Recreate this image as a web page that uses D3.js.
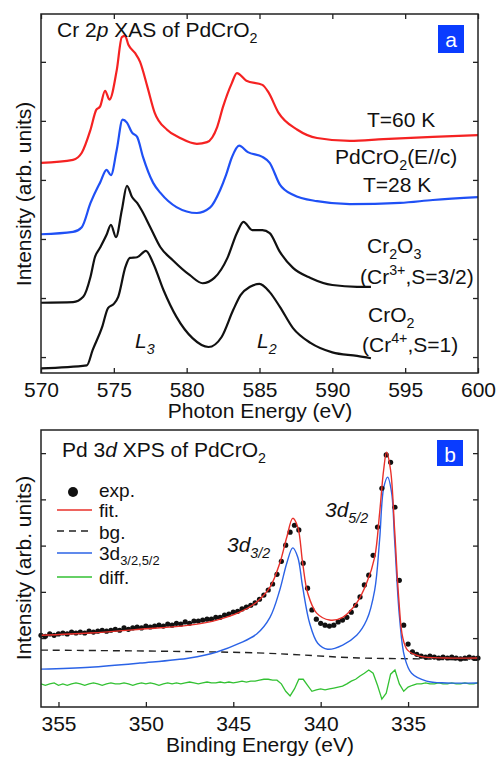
<!DOCTYPE html>
<html>
<head>
<meta charset="utf-8">
<script src="https://cdn.jsdelivr.net/npm/d3@7"></script>
<style>
  body { margin: 0; background: #fff; }
  text { font-family: Arial, "Liberation Sans", sans-serif; fill: #111; }
</style>
</head>
<body>
<svg id="chart" width="496" height="757"></svg>
<script>
// ---- panel a : Cr 2p XAS ----
const xasTicks = [570, 575, 580, 585, 590, 595, 600]

const e60 = [570, 572.2, 572.8, 573.4, 573.8, 574.05, 574.4, 574.7, 575.2, 575.55, 575.77, 576.0, 576.45, 576.8, 577.3, 577.8, 578.65, 579.55, 580.7, 581.4, 582.1, 582.5, 583.1, 583.45, 584.1, 585.2, 585.6, 586.3, 587.6, 588.95, 591.2, 593.5, 596.9, 600]
const i60 = [3.29, 3.34, 3.46, 3.85, 4.19, 4.24, 4.51, 4.36, 4.86, 5.42, 5.44, 5.29, 5.15, 5.0, 4.58, 4.14, 3.85, 3.71, 3.61, 3.64, 3.90, 4.24, 4.64, 4.81, 4.68, 4.61, 4.49, 4.14, 3.85, 3.71, 3.66, 3.69, 3.73, 3.76]

const e28 = [570, 572.2, 572.8, 573.4, 573.9, 574.05, 574.5, 574.8, 575.2, 575.6, 575.9, 576.25, 576.6, 577.0, 577.7, 578.2, 579.3, 580.7, 581.6, 582.3, 582.7, 583.1, 583.6, 584.2, 585.2, 585.7, 586.4, 587.3, 588.95, 591.2, 594.65, 596.9, 600]
const i28 = [2.08, 2.12, 2.20, 2.61, 2.88, 2.95, 3.17, 3.08, 3.51, 4.02, 3.97, 3.80, 3.73, 3.39, 2.95, 2.78, 2.54, 2.44, 2.53, 2.83, 3.08, 3.38, 3.58, 3.47, 3.39, 3.29, 2.92, 2.75, 2.64, 2.59, 2.61, 2.66, 2.71]

const eCr2O3 = [570, 572.2, 572.9, 573.4, 573.7, 574.05, 574.5, 574.8, 575.15, 575.55, 575.9, 576.25, 576.6, 576.9, 577.5, 578.2, 579.05, 580.2, 581.1, 581.9, 582.8, 583.45, 583.9, 584.5, 585.2, 585.7, 586.4, 587.3, 588.5, 590.0, 591.7, 592.65]
const iCr2O3 = [0.92, 0.93, 1.02, 1.36, 1.69, 1.85, 2.07, 2.24, 2.03, 2.49, 2.90, 2.71, 2.61, 2.49, 2.20, 1.86, 1.64, 1.39, 1.25, 1.34, 1.68, 2.10, 2.29, 2.15, 2.15, 2.10, 1.78, 1.51, 1.34, 1.22, 1.19, 1.19]

const eCrO2 = [570, 573.15, 573.55, 574.2, 574.6, 575.0, 575.3, 575.8, 576.1, 576.6, 577.2, 577.7, 578.4, 579.3, 580.4, 581.5, 582.4, 583.2, 583.7, 584.35, 585.0, 585.7, 586.4, 587.3, 588.5, 590.0, 591.7, 592.65]
const iCrO2 = [-0.19, -0.14, 0.12, 0.51, 0.83, 0.90, 1.02, 1.53, 1.68, 1.69, 1.80, 1.59, 1.14, 0.68, 0.32, 0.17, 0.34, 0.80, 1.05, 1.19, 1.24, 1.10, 0.85, 0.49, 0.24, 0.08, 0.02, -0.02]

// ---- panel b : Pd 3d XPS ----
const xpsTicks = [355, 350, 345, 340, 335]

const xpsE = [356, 355.75, 355.5, 355.25, 355, 354.75, 354.5, 354.25, 354, 353.75, 353.5, 353.25, 353, 352.75, 352.5, 352.25, 352, 351.75, 351.5, 351.25, 351, 350.75, 350.5, 350.25, 350, 349.75, 349.5, 349.25, 349, 348.75, 348.5, 348.25, 348, 347.75, 347.5, 347.25, 347, 346.75, 346.5, 346.25, 346, 345.75, 345.5, 345.25, 345, 344.75, 344.5, 344.25, 344, 343.75, 343.5, 343.25, 343, 342.75, 342.5, 342.25, 342, 341.75, 341.5, 341.25, 341, 340.75, 340.5, 340.25, 340, 339.75, 339.5, 339.25, 339, 338.75, 338.5, 338.25, 338, 337.75, 337.5, 337.25, 337, 336.75, 336.5, 336.25, 336, 335.75, 335.5, 335.25, 335, 334.75, 334.5, 334.25, 334, 333.75, 333.5, 333.25, 333, 332.75, 332.5, 332.25, 332, 331.75, 331.5, 331.25, 331]
const xpsExp = [0.06, 0.04, 0.09, 0.06, 0.09, 0.11, 0.09, 0.13, 0.11, 0.13, 0.11, 0.15, 0.13, 0.15, 0.17, 0.15, 0.17, 0.19, 0.17, 0.22, 0.19, 0.22, 0.24, 0.22, 0.26, 0.24, 0.26, 0.28, 0.26, 0.30, 0.28, 0.32, 0.30, 0.35, 0.32, 0.37, 0.37, 0.39, 0.41, 0.41, 0.45, 0.45, 0.50, 0.52, 0.56, 0.58, 0.63, 0.67, 0.71, 0.76, 0.84, 0.93, 1.04, 1.17, 1.38, 1.66, 2.01, 2.29, 2.44, 2.34, 1.62, 1.08, 0.61, 0.41, 0.32, 0.28, 0.26, 0.28, 0.35, 0.39, 0.45, 0.56, 0.71, 0.89, 1.15, 1.36, 1.79, 2.40, 3.24, 3.96, 3.80, 2.83, 1.25, 0.28, -0.13, -0.30, -0.35, -0.39, -0.41, -0.39, -0.41, -0.43, -0.41, -0.43, -0.41, -0.43, -0.45, -0.43, -0.41, -0.43, -0.43]
const xpsDiff = [-0.99, -1.02, -0.99, -0.97, -1.02, -0.99, -1.02, -0.99, -0.97, -0.99, -1.02, -0.99, -0.97, -0.99, -1.02, -0.99, -0.97, -0.99, -0.99, -0.97, -0.99, -1.02, -0.99, -0.97, -0.99, -0.97, -0.99, -1.02, -0.99, -0.97, -0.99, -0.97, -0.99, -0.97, -0.95, -0.97, -0.99, -0.97, -0.95, -0.97, -0.97, -0.95, -0.97, -0.95, -0.97, -0.95, -0.93, -0.95, -0.93, -0.93, -0.91, -0.89, -0.89, -0.91, -0.91, -0.99, -1.15, -1.25, -1.10, -0.89, -0.89, -1.02, -1.15, -1.12, -1.10, -1.12, -1.10, -1.08, -1.06, -1.04, -0.99, -0.93, -0.89, -0.82, -0.76, -0.69, -0.76, -1.02, -1.32, -1.19, -0.78, -0.69, -0.99, -1.15, -1.06, -1.02, -0.99, -0.99, -0.97, -0.99, -0.99, -0.97, -0.99, -0.99, -0.97, -0.99, -0.99, -0.97, -0.99, -0.99, -0.97]

const fitE = [356.0, 353.2, 350.34, 347.5, 345.94, 344.63, 343.66, 342.9, 342.34, 341.94, 341.6, 341.31, 341.03, 340.74, 340.23, 339.49, 338.74, 337.94, 337.37, 336.91, 336.63, 336.4, 336.23, 336.0, 335.77, 335.54, 335.31, 335.03, 334.34, 332.8, 331.03]
const fitI = [0.06, 0.11, 0.19, 0.28, 0.39, 0.56, 0.78, 1.10, 1.62, 2.18, 2.59, 2.40, 1.62, 0.97, 0.54, 0.39, 0.45, 0.76, 1.19, 1.75, 2.70, 3.63, 4.02, 3.63, 2.34, 0.89, 0.02, -0.26, -0.39, -0.43, -0.43]

const peakE = [356.0, 353.2, 350.34, 347.5, 345.94, 344.63, 343.66, 342.9, 342.34, 341.94, 341.6, 341.31, 341.03, 340.63, 340.17, 339.6, 338.74, 337.94, 337.37, 336.91, 336.63, 336.4, 336.17, 335.94, 335.77, 335.49, 335.2, 334.8, 333.94, 332.8, 331.03]
const peakI = [-0.67, -0.63, -0.54, -0.43, -0.30, -0.11, 0.09, 0.45, 1.04, 1.62, 1.95, 1.75, 1.10, 0.32, -0.11, -0.24, -0.15, 0.06, 0.39, 1.04, 2.12, 3.24, 3.48, 3.14, 2.12, 0.45, -0.41, -0.76, -0.93, -0.97, -0.97]

const bgE = [356, 343.66, 337.8, 334.34, 331.03]
const bgI = [-0.26, -0.32, -0.43, -0.45, -0.48]

const svg = d3.select("#chart")

// text with sub/superscripts and italics
function rich(g, x, y, parts, size, anchor) {
    const t = g.append("text")
        .attr("x", x)
        .attr("y", y)
        .attr("text-anchor", anchor || "start")
        .style("font-size", size + "px")
    let shift = 0
    parts.forEach(p => {
        const txt = p[0]
        const kind = p[1] || ""
        const small = kind == "sub" || kind == "sup" || kind == "isub"
        const target = (kind == "sub" || kind == "isub") ? size * 0.28 : kind == "sup" ? -size * 0.45 : 0
        const ts = t.append("tspan").text(txt).attr("dy", target - shift)
        if (small) ts.style("font-size", (size * 0.68) + "px")
        if (kind == "i" || kind == "isub") ts.style("font-style", "italic")
        shift = target
    })
    return t
}

function frame(x0, y0, x1, y1) {
    svg.append("rect")
        .attr("x", x0).attr("y", y0)
        .attr("width", x1 - x0).attr("height", y1 - y0)
        .attr("fill", "none")
        .attr("stroke", "#222")
        .attr("stroke-width", 1.5)
}

function styleAxis(g) {
    g.select(".domain").remove()
    g.selectAll(".tick line").attr("stroke", "#222").attr("stroke-width", 1.3)
    g.selectAll(".tick text").style("font-size", "21px").attr("fill", "#111")
}

// ================= panel a =================
const xA = d3.scaleLinear().domain([570, 600]).range([41, 478])
const yA = d3.scaleLinear().domain([-0.27, 5.81]).range([373, 14])

svg.append("g").attr("transform", "translate(0,373)")
    .call(d3.axisBottom(xA).tickValues(xasTicks).tickSizeInner(-5).tickSizeOuter(0).tickPadding(9))
    .call(styleAxis)
svg.append("g").attr("transform", "translate(0,14)")
    .call(d3.axisTop(xA).tickValues(xasTicks).tickSize(-5).tickFormat(""))
    .call(styleAxis)
svg.append("g").attr("transform", "translate(41,0)")
    .call(d3.axisLeft(yA).tickValues([0, 1, 2, 3, 4, 5]).tickSize(-5).tickFormat(""))
    .call(styleAxis)
svg.append("g").attr("transform", "translate(478,0)")
    .call(d3.axisRight(yA).tickValues([0, 1, 2, 3, 4, 5]).tickSize(-5).tickFormat(""))
    .call(styleAxis)

const lineA = d3.line()
    .x(d => xA(d[0]))
    .y(d => yA(d[1]))
    .curve(d3.curveMonotoneX)

const xasCurves = [
    [e60, i60, "#f52222"],
    [e28, i28, "#1f50f5"],
    [eCr2O3, iCr2O3, "#111"],
    [eCrO2, iCrO2, "#111"]
]
xasCurves.forEach(c => {
    svg.append("path")
        .datum(d3.zip(c[0], c[1]))
        .attr("d", lineA)
        .attr("fill", "none")
        .attr("stroke", c[2])
        .attr("stroke-width", 2.2)
})
frame(41, 14, 478, 373)

rich(svg, 57, 37, [["Cr 2"], ["p", "i"], [" XAS of PdCrO"], ["2", "sub"]], 21)
svg.append("rect").attr("x", 438).attr("y", 25).attr("width", 26).attr("height", 28).attr("fill", "#0a3cff")
svg.append("text").attr("x", 451).attr("y", 47).attr("text-anchor", "middle")
    .style("font-size", "21px").style("fill", "#fff").text("a")

rich(svg, 367, 127, [["T=60 K"]], 21)
rich(svg, 335, 164, [["PdCrO"], ["2", "sub"], ["(E//c)"]], 21)
rich(svg, 363, 192, [["T=28 K"]], 21)
rich(svg, 367, 253, [["Cr"], ["2", "sub"], ["O"], ["3", "sub"]], 21)
rich(svg, 360, 284, [["(Cr"], ["3+", "sup"], [",S=3/2)"]], 21)
rich(svg, 368, 322, [["CrO"], ["2", "sub"]], 21)
rich(svg, 362, 352, [["(Cr"], ["4+", "sup"], [",S=1)"]], 21)
rich(svg, 135, 348, [["L", "i"], ["3", "isub"]], 21)
rich(svg, 257, 348, [["L", "i"], ["2", "isub"]], 21)

svg.append("text").attr("x", 260).attr("y", 418).attr("text-anchor", "middle")
    .style("font-size", "21px").text("Photon Energy (eV)")
svg.append("text").attr("transform", "translate(31,194) rotate(-90)").attr("text-anchor", "middle")
    .style("font-size", "21px").text("Intensity (arb. units)")

// ================= panel b =================
const xB = d3.scaleLinear().domain([356, 331]).range([41, 478])
const yB = d3.scaleLinear().domain([-1.49, 4.5]).range([707, 430])

svg.append("g").attr("transform", "translate(0,707)")
    .call(d3.axisBottom(xB).tickValues(xpsTicks).tickSizeInner(-5).tickSizeOuter(0).tickPadding(9))
    .call(styleAxis)
svg.append("g").attr("transform", "translate(41,0)")
    .call(d3.axisLeft(yB).tickValues([0, 1, 2, 3, 4]).tickSize(-5).tickFormat(""))
    .call(styleAxis)
svg.append("g").attr("transform", "translate(478,0)")
    .call(d3.axisRight(yB).tickValues([0, 1, 2, 3, 4]).tickSize(-5).tickFormat(""))
    .call(styleAxis)

const lineB = d3.line()
    .x(d => xB(d[0]))
    .y(d => yB(d[1]))
    .curve(d3.curveCatmullRom.alpha(0.5))

svg.append("path")
    .datum(d3.zip(xpsE, xpsDiff))
    .attr("d", d3.line().x(d => xB(d[0])).y(d => yB(d[1])))
    .attr("fill", "none").attr("stroke", "#33c133").attr("stroke-width", 1.3)

svg.append("path")
    .datum(d3.zip(bgE, bgI))
    .attr("d", lineB)
    .attr("fill", "none").attr("stroke", "#222").attr("stroke-width", 1.4)
    .attr("stroke-dasharray", "7,5")

svg.append("path")
    .datum(d3.zip(peakE, peakI))
    .attr("d", lineB)
    .attr("fill", "none").attr("stroke", "#2b63e6").attr("stroke-width", 1.4)

svg.append("g")
    .selectAll("circle")
    .data(d3.zip(xpsE, xpsExp))
    .enter()
    .append("circle")
    .attr("cx", d => xB(d[0]))
    .attr("cy", d => yB(d[1]))
    .attr("r", 2.6)
    .attr("fill", "#111")

svg.append("path")
    .datum(d3.zip(fitE, fitI))
    .attr("d", lineB)
    .attr("fill", "none").attr("stroke", "#e8302a").attr("stroke-width", 1.4)

frame(41, 430, 478, 707)

rich(svg, 62, 457, [["Pd 3"], ["d", "i"], [" XPS of PdCrO"], ["2", "sub"]], 21)
svg.append("rect").attr("x", 437).attr("y", 440).attr("width", 26).attr("height", 26).attr("fill", "#0a3cff")
svg.append("text").attr("x", 450).attr("y", 462).attr("text-anchor", "middle")
    .style("font-size", "21px").style("fill", "#fff").text("b")

rich(svg, 227, 552, [["3d", "i"], ["3/2", "isub"]], 21)
rich(svg, 325, 517, [["3d", "i"], ["5/2", "isub"]], 21)

// legend
const legendY = [492, 510, 531, 553, 577]
svg.append("circle").attr("cx", 73).attr("cy", legendY[0]).attr("r", 5).attr("fill", "#111")
const legendLines = [
    ["#e8302a", null],
    ["#222", "7,5"],
    ["#2b63e6", null],
    ["#33c133", null]
]
legendLines.forEach((l, i) => {
    svg.append("line")
        .attr("x1", 57).attr("x2", 92)
        .attr("y1", legendY[i + 1]).attr("y2", legendY[i + 1])
        .attr("stroke", l[0]).attr("stroke-width", 1.5)
        .attr("stroke-dasharray", l[1])
})
rich(svg, 99, 497, [["exp."]], 19)
rich(svg, 99, 517, [["fit."]], 19)
rich(svg, 99, 539, [["bg."]], 19)
rich(svg, 99, 560, [["3d"], ["3/2,5/2", "sub"]], 19)
rich(svg, 99, 584, [["diff."]], 19)

svg.append("text").attr("x", 260).attr("y", 752).attr("text-anchor", "middle")
    .style("font-size", "21px").text("Binding Energy (eV)")
svg.append("text").attr("transform", "translate(31,568) rotate(-90)").attr("text-anchor", "middle")
    .style("font-size", "21px").text("Intensity (arb. units)")
</script>
</body>
</html>
